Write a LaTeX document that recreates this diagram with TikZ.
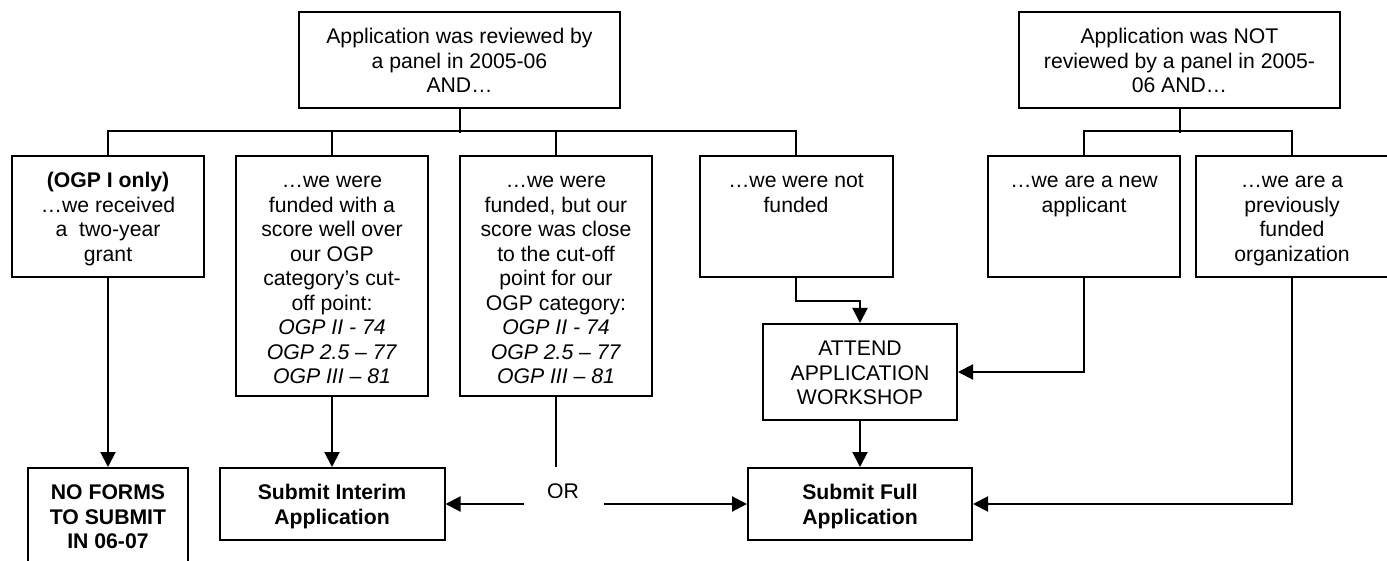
\documentclass[tikz,border=0pt]{standalone}
\usepackage{fontspec}
\setmainfont{Liberation Sans}
\usetikzlibrary{arrows.meta}

\newcommand{\boxtxt}[3]{\parbox[c][#2][t]{#1}{\centering\rule{0pt}{15.8pt}#3}}

\begin{document}
\begin{tikzpicture}[x=0.5pt,y=-0.5pt,
  flow/.style={draw,line width=1pt,inner sep=0pt,font=\fontsize{10.6}{12.25}\selectfont},
  link/.style={line width=1pt},
  arr/.style={line width=1pt,-{Triangle[length=7.5pt,width=7.5pt]}}]
\useasboundingbox (0,0) rectangle (1387,561);

% top row
\node[flow] (rev) at (459.5,60) {\boxtxt{160.5pt}{48pt}{Application was reviewed by\\ a panel in 2005-06\\ AND…}};
\node[flow] (notrev) at (1179.5,60) {\boxtxt{160.5pt}{48pt}{Application was NOT\\ reviewed by a panel in 2005-\\06 AND…}};

% middle row
\node[flow] (two) at (108,216.5) {\boxtxt{96pt}{60.5pt}{\textbf{(OGP I only)}\\ …we received\\ a\ \ two-year\\ grant}};
\node[flow] (well) at (332,276) {\boxtxt{96pt}{120pt}{…we were\\ funded with a\\ score well over\\ our OGP\\ category’s cut-\\off point:\\ \textit{OGP II - 74}\\ \textit{OGP 2.5 – 77}\\ \textit{OGP III – 81}}};
\node[flow] (close) at (556,276) {\boxtxt{96pt}{120pt}{…we were\\ funded, but our\\ score was close\\ to the cut-off\\ point for our\\ OGP category:\\ \textit{OGP II - 74}\\ \textit{OGP 2.5 – 77}\\ \textit{OGP III – 81}}};
\node[flow] (notfund) at (796,216.5) {\boxtxt{96.5pt}{60.5pt}{…we were not\\ funded}};
\node[flow] (new) at (1084,216.5) {\boxtxt{96pt}{60.5pt}{…we are a new\\ applicant}};
\node[flow] (prev) at (1292,216.5) {\boxtxt{96pt}{60.5pt}{…we are a\\ previously\\ funded\\ organization}};

\node[flow] (work) at (860,372) {\boxtxt{97pt}{48pt}{ATTEND\\ APPLICATION\\ WORKSHOP}};

% bottom row
\node[flow] (noforms) at (108,521.5) {\boxtxt{80pt}{53.5pt}{\textbf{NO FORMS\\ TO SUBMIT\\ IN 06-07}}};
\node[flow] (interim) at (332,504) {\boxtxt{112.5pt}{36pt}{\textbf{Submit Interim\\ Application}}};
\node[flow] (full) at (860,504) {\boxtxt{112pt}{36pt}{\textbf{Submit Full\\ Application}}};

\node[font=\fontsize{10.6}{12.25}\selectfont] (or) at (563,491) {OR};
\coordinate (orup) at (556,467);
\coordinate (orleft) at (524,504);
\coordinate (orright) at (604,504);

% branches
\draw[link] (rev.south) -- ++(0,24);
\draw[link] (two.north) -- ++(0,-24) -| (notfund.north);
\draw[link] (well.north) -- ++(0,-24);
\draw[link] (close.north) -- ++(0,-24);
\draw[link] (notrev.south) -- ++(0,24);
\draw[link] (new.north) -- ++(0,-24) -| (prev.north);

% arrows
\draw[arr] (two.south) -- (noforms.north);
\draw[arr] (well.south) -- (interim.north);
\draw[link] (close.south) -- (orup);
\draw[arr] (orleft) -- (interim.east);
\draw[arr] (orright) -- (full.west);
\draw[arr] (notfund.south) -- ++(0,23) -| (work.north);
\draw[arr] (new.south) |- (work.east);
\draw[arr] (work.south) -- (full.north);
\draw[arr] (prev.south) |- (full.east);
\end{tikzpicture}
\end{document}
